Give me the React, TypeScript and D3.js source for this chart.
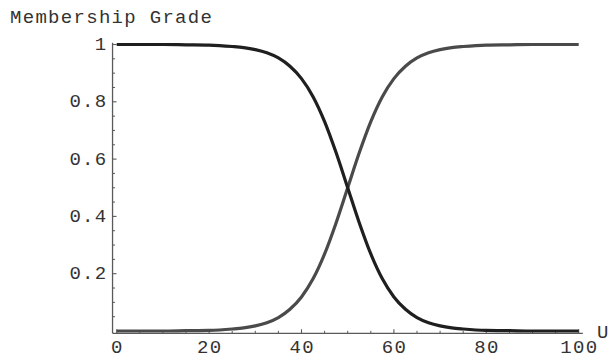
import React from "react";
import * as d3 from "d3";

// Universe of discourse sample points and the two membership functions
const uValues = [0, 5, 10, 15, 20, 25, 27.5, 30, 32.5, 35, 37.5, 40, 42.5, 45, 47.5, 50, 52.5, 55, 57.5, 60, 62.5, 65, 67.5, 70, 72.5, 75, 80, 85, 90, 95, 100];
const lowGrade = [1, 1, 1, 0.999, 0.998, 0.993, 0.989, 0.982, 0.971, 0.953, 0.924, 0.881, 0.818, 0.731, 0.622, 0.5, 0.378, 0.269, 0.182, 0.119, 0.076, 0.047, 0.029, 0.018, 0.011, 0.007, 0.002, 0.001, 0, 0, 0];
const highGrade = [0, 0, 0, 0.001, 0.002, 0.007, 0.011, 0.018, 0.029, 0.047, 0.076, 0.119, 0.182, 0.269, 0.378, 0.5, 0.622, 0.731, 0.818, 0.881, 0.924, 0.953, 0.971, 0.982, 0.989, 0.993, 0.998, 0.999, 1, 1, 1];

const xMajorTicks = [0, 20, 40, 60, 80, 100];
const yMajorTicks = [0.2, 0.4, 0.6, 0.8, 1];
const xTickLabels = ["0", "20", "40", "60", "80", "100"];
const yTickLabels = ["0.2", "0.4", "0.6", "0.8", "1"];

const WIDTH = 611;
const HEIGHT = 358;
const FONT = "'Liberation Mono', 'Courier New', monospace";
const FONT_SIZE = 19;
const SPACING = 1.3;

export default function App() {
  const x = d3.scaleLinear().domain([0, 100]).range([116.7, 578.7]);
  const y = d3.scaleLinear().domain([0, 1]).range([331, 44.5]);

  // axes cross slightly outside the plotted range
  const axisX0 = -0.9;
  const axisX1 = 100.9;
  const axisY0 = -0.008;
  const axisY1 = 1.006;

  const xMinor = d3.range(0, 100.001, 5).filter((v) => v % 20 !== 0);
  const yMinor = d3.range(0.05, 1.0001, 0.05).filter((v) => Math.abs(v * 5 - Math.round(v * 5)) > 1e-6);

  const line = d3
    .line<number>()
    .x((_, i) => x(uValues[i]))
    .y((d) => y(d))
    .curve(d3.curveMonotoneX);

  const axisColor = "#5a5a5a";
  const textColor = "#333";
  const ax = x(axisX0);
  const ay = y(axisY0);

  return (
    <svg
      width={WIDTH}
      height={HEIGHT}
      style={{ position: "absolute", left: 0, top: 0, background: "#fff" }}
      fontFamily={FONT}
      fontSize={FONT_SIZE}
      letterSpacing={SPACING}
    >
      {/* y axis */}
      <line x1={ax} x2={ax} y1={ay} y2={y(axisY1)} stroke={axisColor} strokeWidth={1.3} />
      {yMajorTicks.map((v) => (
        <line key={"ym" + v} x1={ax} x2={ax + 4} y1={y(v)} y2={y(v)} stroke={axisColor} strokeWidth={1.1} />
      ))}
      {yMinor.map((v) => (
        <line key={"yn" + v} x1={ax} x2={ax + 2.5} y1={y(v)} y2={y(v)} stroke={axisColor} strokeWidth={1} />
      ))}
      {yMajorTicks.map((v, i) => (
        <text key={"yl" + v} x={107.5} y={y(v) + 5.5} textAnchor="end" fill={textColor}>
          {yTickLabels[i]}
        </text>
      ))}

      {/* x axis */}
      <line x1={ax} x2={x(axisX1)} y1={ay} y2={ay} stroke={axisColor} strokeWidth={1.3} />
      {xMajorTicks.map((v) => (
        <line key={"xm" + v} x1={x(v)} x2={x(v)} y1={ay} y2={ay - 4} stroke={axisColor} strokeWidth={1.1} />
      ))}
      {xMinor.map((v) => (
        <line key={"xn" + v} x1={x(v)} x2={x(v)} y1={ay} y2={ay - 2.5} stroke={axisColor} strokeWidth={1} />
      ))}
      {xMajorTicks.map((v, i) => (
        <text key={"xl" + v} x={x(v) + SPACING / 2} y={352.5} textAnchor="middle" fill={textColor}>
          {xTickLabels[i]}
        </text>
      ))}

      {/* axis titles */}
      <text x={10} y={22.5} fill={textColor}>
        Membership Grade
      </text>
      <text x={597} y={ay + 5} fill={textColor}>
        U
      </text>

      {/* membership curves */}
      <path d={line(highGrade) ?? ""} fill="none" stroke="#4a4a4a" strokeWidth={3.2} strokeLinejoin="round" />
      <path d={line(lowGrade) ?? ""} fill="none" stroke="#1f1f1f" strokeWidth={3.2} strokeLinejoin="round" />
    </svg>
  );
}
